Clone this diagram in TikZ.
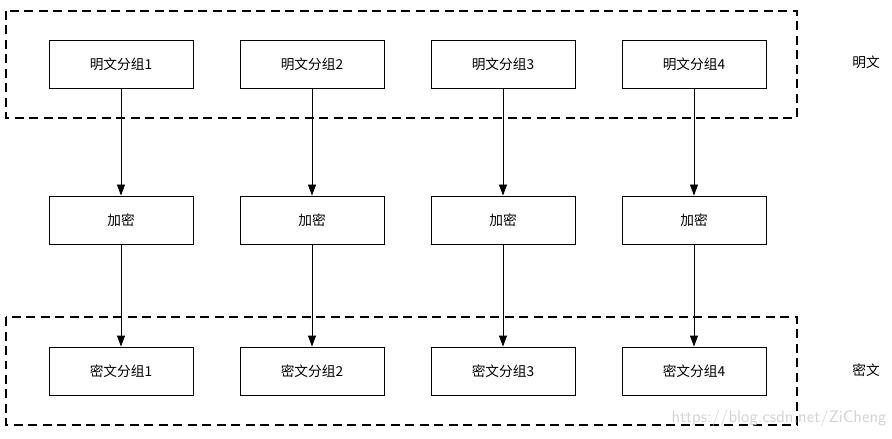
\documentclass[tikz,border=0pt]{standalone}
\usepackage{fontspec}
\newfontfamily\cjk{Noto Sans CJK SC}
\usetikzlibrary{arrows.meta}
\tikzset{
  blockbox/.style={draw, line width=0.5pt, minimum width=2.88cm, minimum height=0.96cm, inner sep=0pt, font=\cjk\fontsize{7.8}{9}\selectfont},
  groupbox/.style={draw, line width=1.3pt, dash pattern=on 0.18cm off 0.11cm},
  flow/.style={-{Triangle[length=0.22cm,width=0.16cm]}, line width=0.5pt}
}
\begin{document}
\begin{tikzpicture}
\useasboundingbox (0,0) rectangle (17.84,-8.78);

\draw [groupbox] (0.12,-0.22) rectangle (15.94,-2.36);
\draw [groupbox] (0.12,-6.34) rectangle (15.94,-8.50);

\foreach \i/\x in {1/2.42, 2/6.24, 3/10.06, 4/13.88} {
  \node [blockbox] (p\i) at (\x,-1.28) {明文分组\i};
  \node [blockbox] (e\i) at (\x,-4.40) {加密};
  \node [blockbox] (c\i) at (\x,-7.42) {密文分组\i};
  \draw [flow] (p\i) -- (e\i);
  \draw [flow] (e\i) -- (c\i);
}

\node [font=\cjk\fontsize{7.8}{9}\selectfont] (plain) at (17.32,-1.24) {明文};
\node [font=\cjk\fontsize{7.8}{9}\selectfont] (cipher) at (17.32,-7.40) {密文};

\node [text=gray!35, font=\sffamily\fontsize{9.5}{10}\selectfont] (mark) at (15.58,-8.37) {https://blog.csdn.net/ZiCheng};
\end{tikzpicture}
\end{document}
